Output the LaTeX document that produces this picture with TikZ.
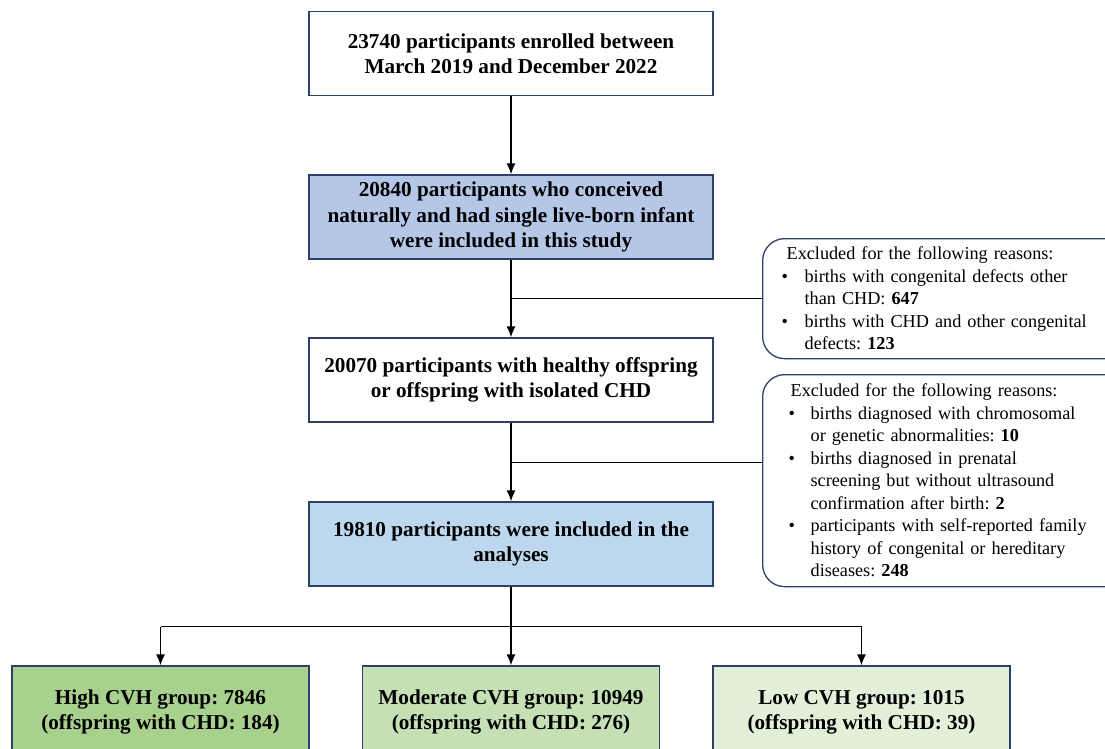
\documentclass[tikz,border=0pt]{standalone}
\usepackage{fontspec}
\setmainfont{Liberation Serif}
\usetikzlibrary{arrows.meta,calc}
\definecolor{navy}{HTML}{2E4068}
\definecolor{blueA}{HTML}{B4C7E7}
\definecolor{blueB}{HTML}{BDD7EE}
\definecolor{greenA}{HTML}{A9D18E}
\definecolor{greenB}{HTML}{C5E0B4}
\definecolor{greenC}{HTML}{E2F0D9}
\frenchspacing
\tikzset{
  mainbox/.style={draw=navy, line width=1.3pt, minimum width=404pt, minimum height=84pt,
    inner sep=0pt, align=center, font=\fontsize{21.2}{25.5}\selectfont\bfseries},
  grpbox/.style={draw=navy, line width=1.3pt, minimum width=297pt, minimum height=92pt,
    inner sep=0pt, align=center, font=\fontsize{21.2}{25}\selectfont\bfseries},
  exbox/.style={draw=navy, line width=1.3pt, rounded corners=22pt, anchor=north west,
    align=left, inner ysep=0pt, text width=340pt, font=\fontsize{18.2}{22.5}\selectfont},
  arr/.style={line width=1.4pt, -{Latex[length=11pt,width=9pt]}},
  side/.style={line width=0.8pt}
}
\newcommand{\bulA}{\hspace*{-5pt}\makebox[23pt][l]{\textbullet}}
\newcommand{\contA}{\hspace*{18pt}}
\newcommand{\bulB}{\hspace*{-2pt}\makebox[22pt][l]{\textbullet}}
\newcommand{\contB}{\hspace*{20pt}}
\begin{document}
\begin{tikzpicture}[x=1pt,y=-1pt]
\useasboundingbox (0,0) rectangle (1105,749);
\clip (0,0) rectangle (1105,749);
\node[mainbox, fill=white] (b1) at (511,53.5) {23740 participants enrolled between\\March 2019 and December 2022};
\node[mainbox, fill=blueA] (b2) at (511,217) {20840 participants who conceived\\naturally and had single live-born infant\\were included in this study};
\node[mainbox, fill=white] (b3) at (511,380) {20070 participants with healthy offspring\\or offspring with isolated CHD};
\node[mainbox, fill=blueB] (b4) at (511,544) {19810 participants were included in the\\analyses};
\node[grpbox, fill=greenA] (g1) at (160.5,712) {High CVH group: 7846\\(offspring with CHD: 184)};
\node[grpbox, fill=greenB] (g2) at (511,712) {Moderate CVH group: 10949\\(offspring with CHD: 276)};
\node[grpbox, fill=greenC] (g3) at (861.5,712) {Low CVH group: 1015\\(offspring with CHD: 39)};
\node[exbox, inner xsep=24pt, minimum height=120pt] (e1) at (762,238)
 {Excluded for the following reasons:\\
  \bulA births with congenital defects other\\
  \contA than CHD: \textbf{647}\\
  \bulA births with CHD and other congenital\\
  \contA defects: \textbf{123}};
\node[exbox, inner xsep=28pt, minimum height=212pt] (e2) at (762,374)
 {Excluded for the following reasons:\\
  \bulB births diagnosed with chromosomal\\
  \contB or genetic abnormalities: \textbf{10}\\
  \bulB births diagnosed in prenatal\\
  \contB screening but without ultrasound\\
  \contB confirmation after birth: \textbf{2}\\
  \bulB participants with self-reported family\\
  \contB history of congenital or hereditary\\
  \contB diseases: \textbf{248}};
\draw[arr] (b1.south) -- (b2.north);
\draw[arr] (b2.south) -- (b3.north);
\draw[arr] (b3.south) -- (b4.north);
\coordinate (s1) at (b2.south |- e1.west);
\coordinate (s2) at ($(b3.south)+(0,40)$);
\draw[side] (s1) -- (e1.west);
\draw[side] (s2) -- (s2 -| e2.west);
\coordinate (sp) at ($(b4.south)+(0,40)$);
\draw[line width=1.4pt] (b4.south) -- (sp);
\draw[line width=1.4pt] (sp -| g1.north) -- (sp -| g3.north);
\draw[arr] (sp -| g1.north) -- (g1.north);
\draw[arr] (sp) -- (g2.north);
\draw[arr] (sp -| g3.north) -- (g3.north);
\end{tikzpicture}
\end{document}
